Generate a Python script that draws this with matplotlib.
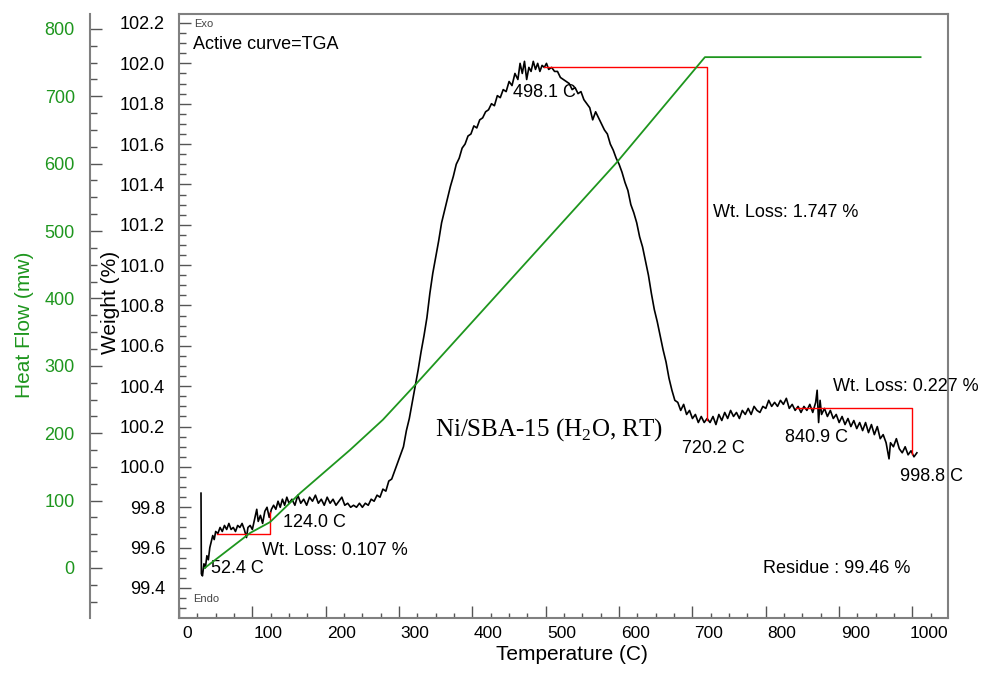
import matplotlib
matplotlib.use("Agg")
import matplotlib.pyplot as plt
import matplotlib.transforms as mtransforms
from matplotlib.ticker import MultipleLocator

plt.rcParams["font.family"] = "Liberation Sans"
plt.rcParams["mathtext.fontset"] = "custom"
plt.rcParams["mathtext.rm"] = "Liberation Serif"

# TGA weight curve
temp = [30, 30.5, 32, 34, 36, 38, 40, 42, 44, 46, 48, 50, 53, 56, 59, 62, 65, 68, 71, 74,
        77, 80, 83, 86, 89, 92, 94, 97, 100, 103, 106, 108, 111, 114, 117, 120, 123, 126,
        129, 132, 135, 138, 141, 144, 147, 150, 154, 158, 162, 166, 170, 174, 178, 182,
        186, 190, 194, 198, 202, 206, 210, 214, 218, 222, 226, 230, 234, 238, 242, 246,
        250, 254, 258, 262, 266, 270, 274, 278, 282, 286, 290, 294, 298, 302, 306, 310,
        314, 318, 322, 326, 330, 334, 338, 342, 346, 350, 354, 358, 362, 366, 370, 374,
        378, 382, 386, 390, 394, 398, 402, 406, 410, 414, 418, 422, 426, 430, 434, 438,
        442, 446, 450, 454, 458, 462, 465, 468, 471, 474, 477, 480, 483, 486, 489, 492,
        495, 498, 501, 504, 508, 512, 516, 520, 524, 528, 532, 536, 540, 544, 548, 552,
        556, 560, 564, 568, 572, 576, 580, 584, 588, 592, 596, 600, 604, 608, 612, 616,
        620, 624, 628, 632, 636, 640, 644, 648, 652, 656, 660, 664, 668, 672, 676, 680,
        684, 688, 692, 696, 700, 704, 708, 712, 716, 720, 724, 728, 732, 736, 740, 744,
        748, 752, 756, 760, 764, 768, 772, 776, 780, 784, 788, 792, 796, 800, 804, 808,
        812, 816, 820, 824, 828, 832, 836, 840, 844, 848, 852, 856, 860, 864, 868, 870,
        872, 874, 876, 880, 884, 888, 892, 896, 900, 904, 908, 912, 916, 920, 924, 928,
        932, 936, 940, 944, 948, 952, 956, 960, 964, 968, 970, 974, 978, 982, 986, 990,
        994, 998, 1002, 1006]
weight = [99.87, 99.47, 99.46, 99.52, 99.50, 99.56, 99.54, 99.60, 99.63, 99.66, 99.64,
          99.68, 99.67, 99.70, 99.68, 99.71, 99.69, 99.72, 99.69, 99.70, 99.68, 99.71,
          99.70, 99.72, 99.69, 99.65, 99.70, 99.71, 99.69, 99.74, 99.79, 99.73, 99.76,
          99.72, 99.78, 99.80, 99.75, 99.79, 99.81, 99.79, 99.83, 99.80, 99.84, 99.81,
          99.85, 99.82, 99.84, 99.81, 99.86, 99.82, 99.84, 99.81, 99.85, 99.83, 99.86,
          99.82, 99.84, 99.81, 99.85, 99.82, 99.84, 99.81, 99.83, 99.85, 99.81, 99.82,
          99.80, 99.81, 99.80, 99.82, 99.80, 99.82, 99.81, 99.84, 99.83, 99.86, 99.85,
          99.89, 99.88, 99.93, 99.94, 99.98, 100.02, 100.06, 100.10, 100.18, 100.24,
          100.32, 100.40, 100.48, 100.57, 100.65, 100.74, 100.86, 100.96, 101.04, 101.12,
          101.21, 101.27, 101.33, 101.39, 101.44, 101.50, 101.53, 101.58, 101.60, 101.64,
          101.65, 101.69, 101.68, 101.72, 101.73, 101.76, 101.77, 101.80, 101.79, 101.84,
          101.83, 101.87, 101.86, 101.91, 101.89, 101.95, 101.92, 102.00, 101.95, 102.01,
          101.92, 101.98, 101.96, 102.01, 101.97, 102.00, 101.96, 101.99, 101.98, 102.00,
          101.97, 101.98, 101.96, 101.96, 101.93, 101.92, 101.91, 101.90, 101.87, 101.88,
          101.85, 101.86, 101.82, 101.80, 101.78, 101.72, 101.76, 101.73, 101.70, 101.67,
          101.65, 101.60, 101.57, 101.53, 101.50, 101.46, 101.41, 101.37, 101.30, 101.26,
          101.21, 101.14, 101.09, 101.02, 100.95, 100.86, 100.78, 100.72, 100.65, 100.58,
          100.52, 100.44, 100.38, 100.33, 100.32, 100.28, 100.31, 100.26, 100.28, 100.24,
          100.26, 100.22, 100.25, 100.22, 100.24, 100.22, 100.25, 100.21, 100.26, 100.23,
          100.27, 100.24, 100.28, 100.25, 100.27, 100.24, 100.28, 100.26, 100.29, 100.26,
          100.30, 100.28, 100.27, 100.30, 100.29, 100.33, 100.30, 100.32, 100.30, 100.33,
          100.31, 100.34, 100.29, 100.31, 100.28, 100.30, 100.27, 100.30, 100.28, 100.31,
          100.27, 100.32, 100.38, 100.22, 100.33, 100.26, 100.29, 100.25, 100.28, 100.24,
          100.26, 100.22, 100.25, 100.21, 100.24, 100.20, 100.23, 100.19, 100.22, 100.18,
          100.22, 100.17, 100.21, 100.16, 100.20, 100.14, 100.16, 100.12, 100.04, 100.12,
          100.10, 100.14, 100.09, 100.07, 100.10, 100.06, 100.08, 100.05, 100.07]

# heat flow curve
hf_temp = [35, 97, 124, 165, 233, 278, 324, 597, 717, 1011]
heat_flow = [0, 52, 68, 111, 175, 220, 274, 602, 758, 758]

# weight-loss step markers
steps_temp = [[52.4, 124.0, 124.0], [498.1, 720.2, 720.2], [840.9, 998.8, 998.8]]
steps_wt = [[99.668, 99.668, 99.775], [101.98, 101.98, 100.233], [100.29, 100.29, 100.063]]

notes = ["52.4 C", "124.0 C", "Wt. Loss: 0.107 %", "498.1 C", "Wt. Loss: 1.747 %",
         "720.2 C", "840.9 C", "998.8 C", "Wt. Loss: 0.227 %", "Residue : 99.46 %"]
notes_x = [43.6, 141.8, 113.2, 455.4, 728, 685.8, 826.2, 983.6, 891.6, 796.2]
notes_y = [99.499, 99.727, 99.588, 101.858, 101.263, 100.089, 100.148, 99.955, 100.401, 99.499]

GREEN = "#1e961e"
GRAY = "#808080"

fig = plt.figure(figsize=(9.9, 6.86), dpi=100)
ax = fig.add_axes([179 / 990, 68 / 686, 769 / 990, 604 / 686])
ax2 = ax.twinx()

ax.plot(temp, weight, color="black", lw=1.2)
for tx, wy in zip(steps_temp, steps_wt):
    ax.plot(tx, wy, color="red", lw=1.0)
ax2.plot(hf_temp, heat_flow, color=GREEN, lw=1.3)

ax.set_xlim(0, 1048.4)
ax.set_ylim(99.2513, 102.2446)
ax2.set_ylim(-74.2, 822)

for s in ax.spines.values():
    s.set_color(GRAY)
    s.set_linewidth(1.5)
ax2.spines["right"].set_visible(False)
ax2.spines["top"].set_visible(False)
ax2.spines["bottom"].set_visible(False)
ax2.spines["left"].set_position(("outward", 64))
ax2.spines["left"].set_color(GRAY)
ax2.spines["left"].set_linewidth(1.5)
ax2.yaxis.set_ticks_position("left")
ax2.yaxis.set_label_position("left")

ax.xaxis.set_major_locator(MultipleLocator(100))
ax.xaxis.set_minor_locator(MultipleLocator(25))
ax.yaxis.set_major_locator(MultipleLocator(0.2))
ax.yaxis.set_minor_locator(MultipleLocator(0.05))
ax2.yaxis.set_major_locator(MultipleLocator(100))
ax2.yaxis.set_minor_locator(MultipleLocator(25))
ax.yaxis.set_major_formatter(matplotlib.ticker.FormatStrFormatter("%.1f"))

ax.tick_params(axis="x", which="major", direction="in", length=8.5, width=1, color="#555555",
               labelsize=12.5, pad=6)
ax.tick_params(axis="x", which="minor", direction="in", length=3.5, width=1, color="#555555")
ax.tick_params(axis="y", which="major", direction="in", length=8.5, width=1, color="#555555",
               labelsize=13, pad=10)
ax.tick_params(axis="y", which="minor", direction="in", length=5, width=1, color="#555555")
ax2.tick_params(axis="y", which="major", direction="in", length=8.5, width=1, color="#555555",
                labelsize=13, pad=11, labelcolor=GREEN)
ax2.tick_params(axis="y", which="minor", direction="in", length=5, width=1, color="#555555")

ax.set_xticks(range(0, 1001, 100))
fig.canvas.draw()
for i, lab in enumerate(ax.get_xticklabels()):
    dx = 0.08 if i == 0 else 0.16
    lab.set_transform(lab.get_transform() + mtransforms.ScaledTranslation(dx, 0, fig.dpi_scale_trans))

ax.set_xlabel("Temperature (C)", fontsize=15)
ax.xaxis.set_label_coords(0.511, -0.045)
ax.set_ylabel("Weight (%)", fontsize=15)
ax.yaxis.set_label_coords(-0.077, 0.523)
ax2.set_ylabel("Heat Flow (mw)", fontsize=15, color=GREEN)
ax2.yaxis.set_label_coords(-0.1886, 0.485)

for t, x, y in zip(notes, notes_x, notes_y):
    ax.text(x, y, t, fontsize=13, ha="left", va="center")

ax.text(0.018, 0.95, "Active curve=TGA", transform=ax.transAxes, fontsize=13, ha="left", va="center")
ax.text(0.02, 0.984, "Exo", transform=ax.transAxes, fontsize=8, color="#444444", ha="left", va="center")
ax.text(0.018, 0.031, "Endo", transform=ax.transAxes, fontsize=8, color="#444444", ha="left", va="center")
ax.text(349, 100.183, "Ni/SBA-15 (H$_\\mathrm{2}$O, RT)", family="Liberation Serif", fontsize=18,
        ha="left", va="center")

fig.savefig("out.png", dpi=100)
